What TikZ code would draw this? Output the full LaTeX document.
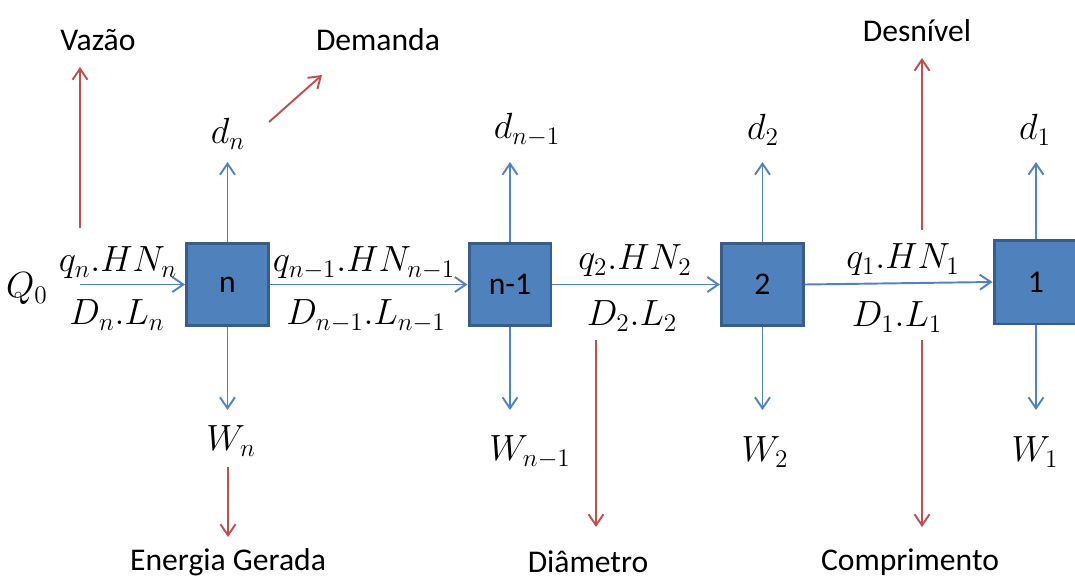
\documentclass[tikz,border=0pt]{standalone}
\usepackage{fontspec}
\setmainfont{Carlito}
\usepackage{xcolor}
\definecolor{nodeblue}{RGB}{79, 129, 189}
\definecolor{nodeedge}{RGB}{56, 93, 138}
\definecolor{flowblue}{RGB}{84, 130, 190}
\definecolor{notered}{RGB}{192, 80, 77}
\usepackage{tikz}
\usetikzlibrary{arrows.meta, positioning}

\begin{document}
\begin{tikzpicture}[
    x=0.02cm, y=-0.02cm,
    reach/.style={rectangle, draw=nodeedge, fill=nodeblue, line width=1.7pt, minimum size=1.64cm, inner sep=0pt, font=\fontsize{18}{20}\selectfont},
    flow/.style={draw=flowblue, line width=1.1pt, -{Straight Barb[length=2.2mm, width=3mm]}},
    note/.style={draw=notered, line width=1.1pt, -{Straight Barb[length=2.2mm, width=3mm]}},
    var/.style={inner sep=1pt, font=\fontsize{20}{22}\selectfont},
    caption/.style={inner sep=1pt, font=\fontsize{18}{22}\selectfont}
  ]
    \useasboundingbox (0,0) rectangle (1075,581);

    % reaches, upstream to downstream
    \node[reach] (bn) at (227.5, 284.5) {n};
    \node[reach] (bn1) at (510, 284.5) {n-1};
    \node[reach] (b2) at (762.5, 284.5) {2};
    \node[reach, minimum size=1.68cm] (b1) at (1036, 282) {1};

    \coordinate (uptip) at (0, 162);
    \coordinate (downtip) at (0, 410);
    \coordinate (inflow) at (80, 284.5);

    % inflow and pipe links
    \draw[flow] (inflow) -- (bn.west);
    \draw[flow] (bn.east) -- (bn1.west);
    \draw[flow] (bn1.east) -- (b2.west);
    \draw[flow] (b2.east) -- (b1.west);

    % demand up, energy down
    \draw[flow] (bn.north) -- (bn.north |- uptip);
    \draw[flow] (bn1.north) -- (bn1.north |- uptip);
    \draw[flow] (b2.north) -- (b2.north |- uptip);
    \draw[flow] (b1.north) -- (b1.north |- uptip);
    \draw[flow] (bn.south) -- (bn.south |- downtip);
    \draw[flow] (bn1.south) -- (bn1.south |- downtip);
    \draw[flow] (b2.south) -- (b2.south |- downtip);
    \draw[flow] (b1.south) -- (b1.south |- downtip);

    % variables
    \node[var] (Q0) at (27, 289) {$Q_0$};
    \node[var] (qn) at (118, 263) {$q_n.HN_n$};
    \node[var] (Dn) at (117, 315) {$D_n.L_n$};
    \node[var] (qn1) at (364, 263) {$q_{n-1}.HN_{n-1}$};
    \node[var] (Dn1) at (366, 316) {$D_{n-1}.L_{n-1}$};
    \node[var] (q2) at (635, 261) {$q_2.HN_2$};
    \node[var] (D2) at (632, 316) {$D_2.L_2$};
    \node[var] (q1) at (903, 260) {$q_1.HN_1$};
    \node[var] (D1) at (897, 317) {$D_1.L_1$};
    \node[var] (dn) at (228, 134) {$d_n$};
    \node[var] (dn1) at (527, 130) {$d_{n-1}$};
    \node[var] (d2) at (763, 130) {$d_2$};
    \node[var] (d1) at (1035, 130) {$d_1$};
    \node[var] (Wn) at (231, 441) {$W_n$};
    \node[var] (Wn1) at (530, 452) {$W_{n-1}$};
    \node[var] (W2) at (765, 452) {$W_2$};
    \node[var] (W1) at (1035, 452) {$W_1$};

    % meaning of the variables
    \node[caption] (vazao) at (98, 40) {Vazão};
    \node[caption] (demanda) at (378, 40) {Demanda};
    \node[caption] (desnivel) at (917, 31) {Desnível};
    \node[caption] (energia) at (228, 562) {Energia Gerada};
    \node[caption] (diametro) at (588, 562) {Diâmetro};
    \node[caption] (comprimento) at (910, 562) {Comprimento};

    \coordinate (vz-a) at (80, 228);
    \coordinate (vz-b) at (80, 67);
    \coordinate (dm-a) at (269, 122);
    \coordinate (dm-b) at (322, 75);
    \coordinate (ds-a) at (922, 230);
    \coordinate (ds-b) at (922, 58);
    \coordinate (eg-a) at (228, 467);
    \coordinate (eg-b) at (228, 537);
    \coordinate (di-a) at (596, 340);
    \coordinate (di-b) at (596, 527);
    \coordinate (cp-a) at (922, 340);
    \coordinate (cp-b) at (922, 527);
    \draw[note] (vz-a) -- (vz-b);
    \draw[note] (dm-a) -- (dm-b);
    \draw[note] (ds-a) -- (ds-b);
    \draw[note] (eg-a) -- (eg-b);
    \draw[note] (di-a) -- (di-b);
    \draw[note] (cp-a) -- (cp-b);
  \end{tikzpicture}
\end{document}
